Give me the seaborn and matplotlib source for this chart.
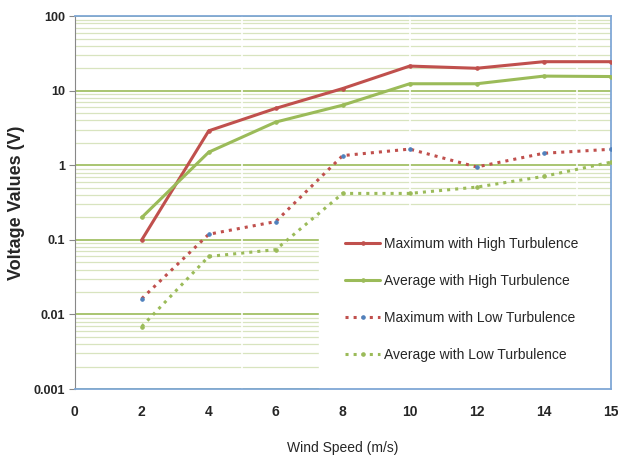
import matplotlib
matplotlib.use("Agg")
import matplotlib.pyplot as plt
import seaborn as sns
import numpy as np

# wind speed categories (evenly spaced on the chart)
wind_speed = [2, 4, 6, 8, 10, 12, 14, 15]
x_labels = ['0', '2', '4', '6', '8', '10', '12', '14', '15']

max_high = [0.10, 2.9, 5.8, 10.7, 21.4, 20.0, 24.5, 24.5]
avg_high = [0.20, 1.5, 3.8, 6.4, 12.4, 12.4, 15.7, 15.5]
max_low = [0.0163, 0.119, 0.176, 1.35, 1.65, 0.95, 1.45, 1.64]
avg_low = [0.0069, 0.060, 0.074, 0.42, 0.42, 0.51, 0.71, 1.10]

labels = ['Maximum with High Turbulence', 'Average with High Turbulence',
          'Maximum with Low Turbulence', 'Average with Low Turbulence']

RED = '#C0504D'
GREEN = '#9BBB59'

sns.set_style('white')
plt.rcParams['font.family'] = ['Liberation Sans', 'DejaVu Sans']

fig, ax = plt.subplots(figsize=(6.18, 4.61), dpi=100)
fig.subplots_adjust(left=0.121, right=0.988, top=0.965, bottom=0.156)

x_pos = np.arange(1, len(wind_speed) + 1)

series = [(max_high, RED, '-', RED), (avg_high, GREEN, '-', GREEN),
          (max_low, RED, ':', '#4F81BD'), (avg_low, GREEN, ':', GREEN)]
handles = []
for vals, col, ls, mcol in series:
    sns.lineplot(x=x_pos, y=vals, ax=ax, color=col, linestyle=ls, linewidth=2.2,
                 marker='o', markersize=2.5, markerfacecolor=mcol,
                 markeredgecolor=mcol, zorder=3)
    handles.append(ax.lines[-1])

ax.set_yscale('log')
ax.set_ylim(0.001, 100)
ax.set_xlim(0, 8)

# gridlines
ax.yaxis.set_minor_locator(matplotlib.ticker.LogLocator(base=10, subs=np.arange(2, 10)))
ax.yaxis.set_minor_formatter(matplotlib.ticker.NullFormatter())
ax.grid(which='major', axis='y', color=GREEN, linewidth=1.2, zorder=1)
ax.grid(which='minor', axis='y', color='#D8E4BF', linewidth=0.9, zorder=1)
ax.set_axisbelow(True)
for xv in [2.5, 5, 7.5]:
    ax.axvline(xv, color='white', linewidth=1.2, zorder=1.5)

ax.set_xticks(np.arange(0, 9))
ax.set_xticklabels(x_labels, fontsize=10, fontweight='bold')
ax.set_yticks([0.001, 0.01, 0.1, 1, 10, 100])
ax.set_yticklabels(['0.001', '0.01', '0.1', '1', '10', '100'], fontsize=9, fontweight='bold')
ax.tick_params(axis='y', which='major', left=True, length=4, color='#888888', pad=3)
ax.tick_params(axis='y', which='minor', left=False)
ax.tick_params(axis='x', bottom=False, pad=8)

for side in ['top', 'right', 'bottom']:
    ax.spines[side].set_color('#7FA7D6')
    ax.spines[side].set_linewidth(1.3)
ax.spines['left'].set_color('#888888')

ax.set_ylabel('Voltage Values (V)', fontsize=13, fontweight='bold', labelpad=6)
ax.set_xlabel('Wind Speed (m/s)', fontsize=10, labelpad=16)

leg = ax.legend(handles, labels, loc='lower left', bbox_to_anchor=(0.456, 0.003, 0.544, 0.45),
                mode='expand', fontsize=10, frameon=True, facecolor='white', edgecolor='white',
                fancybox=False, framealpha=1, labelspacing=1.65, handlelength=2.5,
                handletextpad=0.3, borderpad=1.9, borderaxespad=0)
leg.set_zorder(2.2)

fig.savefig('out.png', dpi=100)
